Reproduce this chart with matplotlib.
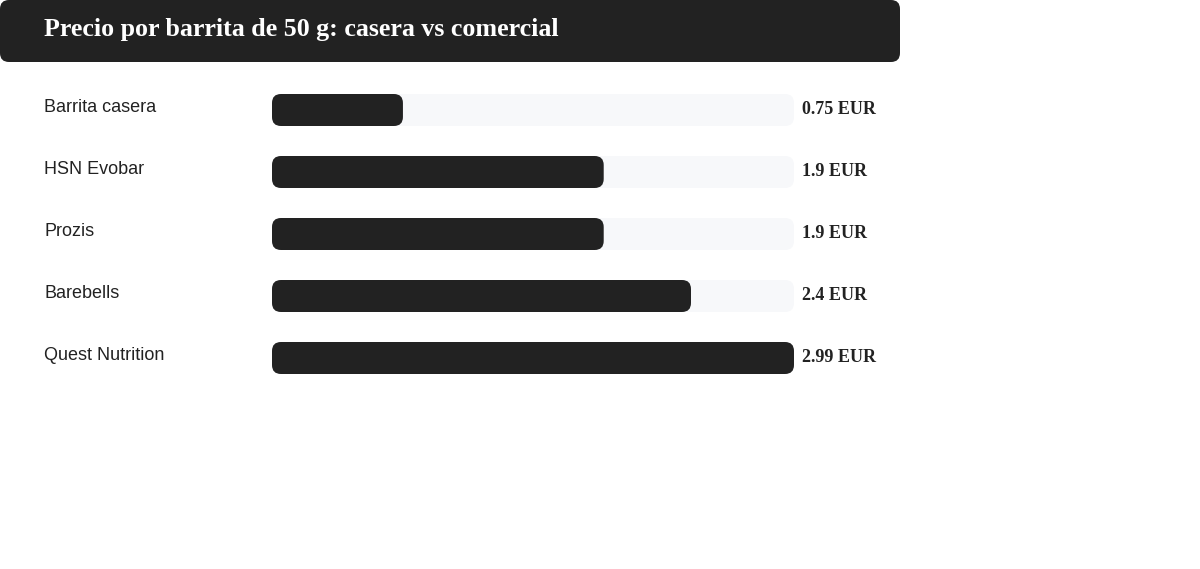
import matplotlib
matplotlib.use("Agg")
import matplotlib.pyplot as plt
from matplotlib.patches import FancyBboxPatch

# Data
labels = ["Barrita casera", "HSN Evobar", "Prozis", "Barebells", "Quest Nutrition"]
prices = [0.75, 1.9, 1.9, 2.4, 2.99]
value_texts = ["0.75 EUR", "1.9 EUR", "1.9 EUR", "2.4 EUR", "2.99 EUR"]
title = "Precio por barrita de 50 g: casera vs comercial"

DARK = "#222222"
TRACK = "#f7f8fa"

W, H = 1200, 569
fig = plt.figure(figsize=(W / 100, H / 100), dpi=100)
ax = fig.add_axes([0, 0, 1, 1])
ax.set_xlim(0, W)
ax.set_ylim(H, 0)
ax.axis("off")

# title banner
ax.add_patch(FancyBboxPatch((0, 0), 900, 62, boxstyle="round,pad=0,rounding_size=9",
                            fc=DARK, ec="none"))
ax.text(44, 29, title, color="white", fontsize=18.7, fontweight="bold",
        family="Liberation Serif", va="center", ha="left")

# bars
track_x0, track_w = 272, 522
bar_h, first_y, step = 32, 94, 62
vmax = max(prices)

for i, (lab, val, txt) in enumerate(zip(labels, prices, value_texts)):
    y = first_y + i * step
    ax.add_patch(FancyBboxPatch((track_x0, y), track_w, bar_h,
                                boxstyle="round,pad=0,rounding_size=9", fc=TRACK, ec="none"))
    bw = val / vmax * track_w
    ax.add_patch(FancyBboxPatch((track_x0, y), bw, bar_h,
                                boxstyle="round,pad=0,rounding_size=9", fc=DARK, ec="none"))
    ax.text(44, y + 13, lab, color=DARK, fontsize=13, family="Liberation Sans",
            va="center", ha="left")
    ax.text(track_x0 + track_w + 8, y + 15, txt, color=DARK, fontsize=13, fontweight="bold",
            family="Liberation Serif", va="center", ha="left")

fig.savefig("out.png", dpi=100)
